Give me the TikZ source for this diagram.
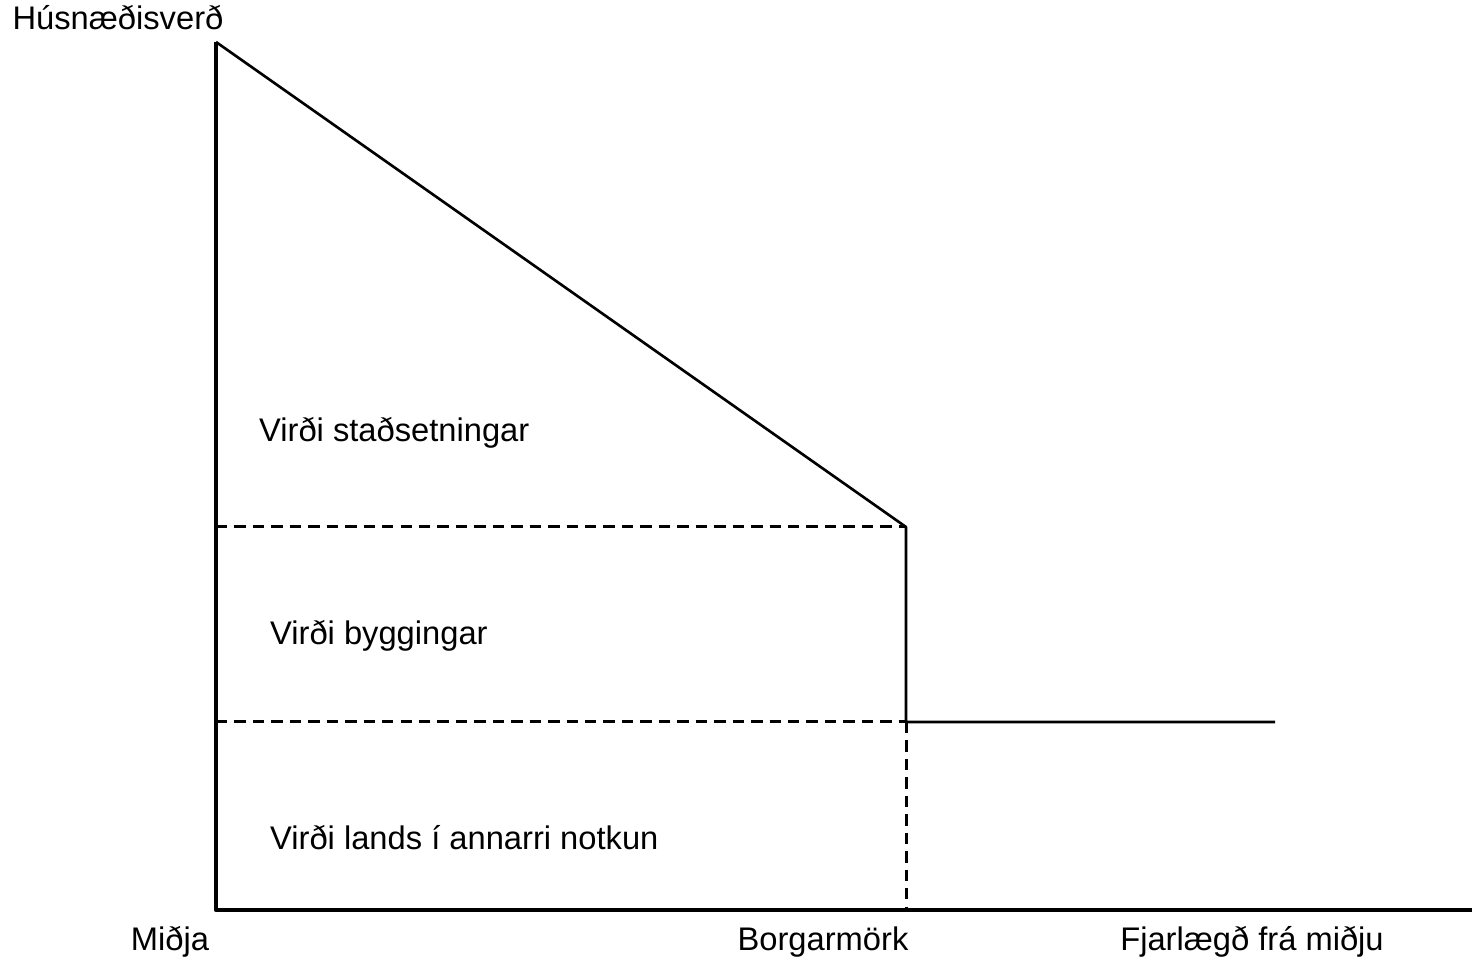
\documentclass[tikz,border=0pt]{standalone}
\usepackage{fontspec}
\setmainfont{Liberation Sans}
\begin{document}
\begin{tikzpicture}[line join=round, font=\fontsize{18.6}{22}\selectfont]
		\tikzset{axis/.style={line width=2.6pt},
		         price/.style={line width=1.5pt},
		         guide/.style={line width=1.7pt,dash pattern=on 6.5pt off 4pt}}
		\useasboundingbox (-4.32,-0.98) rectangle (25.12,18.2);
		\coordinate (O) at (0,0);
		\coordinate (top) at (0,17.36);
		\coordinate (xend) at (25.12,0);
		\coordinate (edge) at (13.8,7.66);
		\coordinate (base) at (13.8,3.76);
		\coordinate (foot) at (13.8,0);
		\coordinate (far) at (21.18,3.76);
		\coordinate (lvlA) at (0,7.66);
		\coordinate (lvlB) at (0,3.76);
		\draw[guide](lvlA)--(edge);
		\draw[guide](lvlB)--(base);
		\draw[guide](base)--(foot);
		\draw[price](top)--(edge)--(base)--(far);
		\draw[axis](top)--(O)--(xend);
		\node (ylab) at (-1.96,17.84) {Húsnæðisverð};
		\node[anchor=west] (loc) at (0.74,9.54) {Virði staðsetningar};
		\node[anchor=west] (bld) at (0.96,5.48) {Virði byggingar};
		\node[anchor=west] (land) at (0.96,1.44) {Virði lands í annarri notkun};
		\node (mid) at (-0.92,-0.64) {Miðja};
		\node (lim) at (12.14,-0.64) {Borgarmörk};
		\node (dist) at (20.72,-0.64) {Fjarlægð frá miðju};
\end{tikzpicture}
\end{document}
